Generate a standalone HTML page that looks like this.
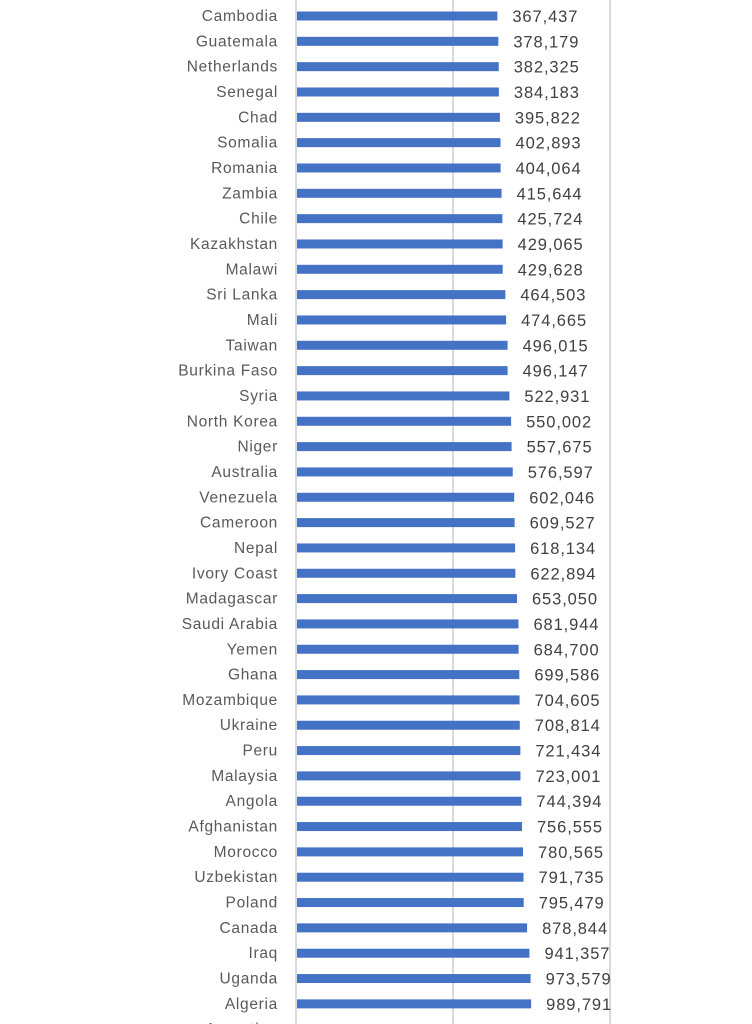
<!DOCTYPE html>
<html><head><meta charset="utf-8"><style>
html,body{margin:0;padding:0;background:#fff;}
svg{display:block;font-family:"Liberation Sans",sans-serif;}
</style></head><body>
<svg id="chart" width="752" height="1024" viewBox="0 0 752 1024" xmlns="http://www.w3.org/2000/svg"></svg>
<script>
const categories = ["Cambodia","Guatemala","Netherlands","Senegal","Chad","Somalia","Romania","Zambia","Chile","Kazakhstan","Malawi","Sri Lanka","Mali","Taiwan","Burkina Faso","Syria","North Korea","Niger","Australia","Venezuela","Cameroon","Nepal","Ivory Coast","Madagascar","Saudi Arabia","Yemen","Ghana","Mozambique","Ukraine","Peru","Malaysia","Angola","Afghanistan","Morocco","Uzbekistan","Poland","Canada","Iraq","Uganda","Algeria","Argentina"];
const values = [367437,378179,382325,384183,395822,402893,404064,415644,425724,429065,429628,464503,474665,496015,496147,522931,550002,557675,576597,602046,609527,618134,622894,653050,681944,684700,699586,704605,708814,721434,723001,744394,756555,780565,791735,795479,878844,941357,973579,989791,1020000];
const gridTicks = [1000,100000,10000000];

const svg = document.getElementById('chart');
const NS = 'http://www.w3.org/2000/svg';
const x0 = 296, pxPerDecade = 78.5, minLog = 3;
function xScale(v){ return x0 + (Math.log10(v) - minLog) * pxPerDecade; }
function yScale(i){ return 16 + i * 25.33; }

gridTicks.forEach(t => {
  const l = document.createElementNS(NS,'line');
  
  
  const x = xScale(t);
  l.setAttribute('x1',x); l.setAttribute('x2',x);
  l.setAttribute('y1',0); l.setAttribute('y2',1024);
  l.setAttribute('stroke','#d9d9d9'); l.setAttribute('stroke-width','2');
  svg.appendChild(l);
});

const fmt = v => v.toLocaleString('en-US');
categories.forEach((c,i) => {
  const y = yScale(i);
  const lab = document.createElementNS(NS,'text');
  
  
  lab.setAttribute('x',278); lab.setAttribute('y',y+5);
  lab.setAttribute('text-anchor','end');
  lab.setAttribute('font-size','15.5'); lab.setAttribute('letter-spacing','0.7'); lab.setAttribute('fill','#595959');
  lab.textContent = c;
  svg.appendChild(lab);

  const r = document.createElementNS(NS,'rect');
  
  
  r.setAttribute('x',x0+1); r.setAttribute('y',y-4.5);
  r.setAttribute('width',xScale(values[i])-x0-1); r.setAttribute('height',9);
  r.setAttribute('fill','#4472c4');
  svg.appendChild(r);

  if (y < 1015) {
    const vl = document.createElementNS(NS,'text');
    
    
    vl.setAttribute('x',xScale(values[i])+15); vl.setAttribute('y',y+6);
    vl.setAttribute('font-size','16.5'); vl.setAttribute('letter-spacing','0.9'); vl.setAttribute('fill','#404040');
    vl.textContent = fmt(values[i]);
    svg.appendChild(vl);
  }
});
</script>
</body></html>
